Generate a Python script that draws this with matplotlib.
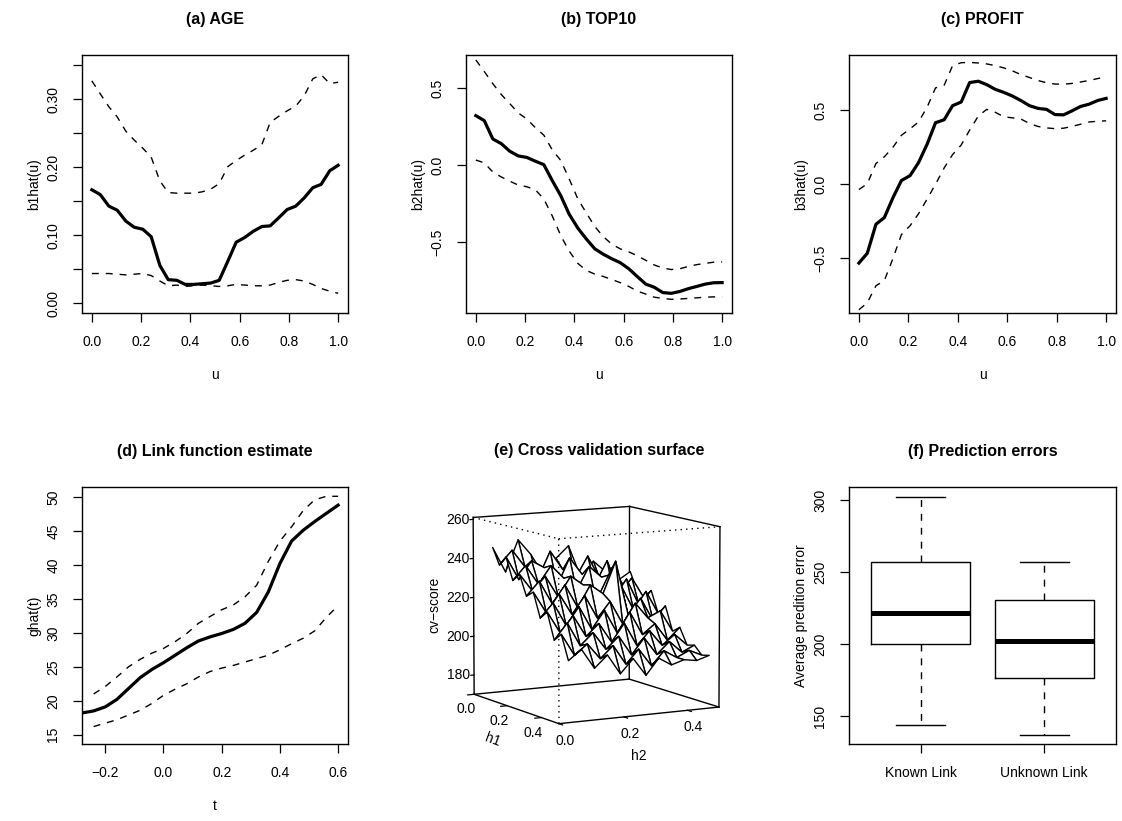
import numpy as np
import matplotlib.pyplot as plt

plt.rcParams['font.family'] = ['Liberation Sans', 'DejaVu Sans']
plt.rcParams['axes.unicode_minus'] = True

# --- coefficient functions, panels (a)-(c) ---
U = [0.000, 0.034, 0.069, 0.103, 0.138, 0.172, 0.207, 0.241, 0.276, 0.310,
     0.345, 0.379, 0.414, 0.448, 0.483, 0.517, 0.552, 0.586, 0.621, 0.655,
     0.690, 0.724, 0.759, 0.793, 0.828, 0.862, 0.897, 0.931, 0.966, 1.000]

B1_FIT = [0.167, 0.160, 0.143, 0.137, 0.121, 0.112, 0.109, 0.098, 0.056, 0.035,
          0.034, 0.028, 0.028, 0.029, 0.030, 0.034, 0.062, 0.090, 0.097, 0.106,
          0.113, 0.114, 0.126, 0.138, 0.143, 0.155, 0.170, 0.175, 0.195, 0.203]
B1_UP = [0.327, 0.308, 0.289, 0.274, 0.253, 0.240, 0.228, 0.215, 0.180, 0.163,
         0.162, 0.162, 0.162, 0.164, 0.168, 0.176, 0.201, 0.210, 0.218, 0.225,
         0.233, 0.266, 0.275, 0.283, 0.290, 0.305, 0.330, 0.336, 0.323, 0.325]
B1_LO = [0.044, 0.044, 0.044, 0.043, 0.042, 0.043, 0.044, 0.041, 0.033, 0.026,
         0.027, 0.025, 0.026, 0.027, 0.026, 0.025, 0.026, 0.028, 0.027, 0.026,
         0.026, 0.027, 0.031, 0.034, 0.035, 0.033, 0.028, 0.022, 0.018, 0.015]

B2_FIT = [0.322, 0.290, 0.170, 0.140, 0.090, 0.060, 0.050, 0.026, 0.003, -0.100,
          -0.200, -0.320, -0.410, -0.480, -0.545, -0.580, -0.610, -0.635, -0.675, -0.725,
          -0.775, -0.795, -0.830, -0.835, -0.823, -0.805, -0.790, -0.775, -0.766, -0.765]
B2_UP = [0.685, 0.610, 0.530, 0.460, 0.400, 0.340, 0.300, 0.245, 0.195, 0.100,
         0.030, -0.090, -0.220, -0.310, -0.400, -0.465, -0.515, -0.545, -0.565, -0.590,
         -0.620, -0.650, -0.670, -0.680, -0.675, -0.660, -0.648, -0.640, -0.632, -0.630]
B2_LO = [0.033, 0.015, -0.045, -0.077, -0.105, -0.130, -0.141, -0.160, -0.220, -0.330,
         -0.460, -0.560, -0.640, -0.685, -0.710, -0.725, -0.745, -0.765, -0.790, -0.820,
         -0.840, -0.860, -0.868, -0.874, -0.872, -0.868, -0.864, -0.860, -0.858, -0.858]

B3_FIT = [-0.532, -0.466, -0.270, -0.225, -0.090, 0.025, 0.058, 0.145, 0.270, 0.415,
          0.435, 0.530, 0.555, 0.686, 0.695, 0.672, 0.640, 0.620, 0.595, 0.565,
          0.530, 0.512, 0.505, 0.470, 0.468, 0.495, 0.525, 0.540, 0.565, 0.579]
B3_UP = [-0.036, 0.003, 0.140, 0.185, 0.250, 0.330, 0.374, 0.420, 0.520, 0.650,
         0.668, 0.800, 0.820, 0.822, 0.818, 0.812, 0.800, 0.785, 0.765, 0.740,
         0.720, 0.700, 0.685, 0.676, 0.675, 0.680, 0.690, 0.700, 0.713, 0.725]
B3_LO = [-0.847, -0.800, -0.685, -0.650, -0.500, -0.340, -0.280, -0.200, -0.100, 0.000,
         0.110, 0.200, 0.265, 0.365, 0.460, 0.505, 0.485, 0.455, 0.448, 0.440,
         0.410, 0.390, 0.380, 0.375, 0.378, 0.390, 0.405, 0.420, 0.425, 0.428]

# --- link function, panel (d) ---
T = [-0.28, -0.24, -0.20, -0.16, -0.12, -0.08, -0.04, 0.00, 0.04, 0.08, 0.12, 0.16,
     0.20, 0.24, 0.28, 0.32, 0.36, 0.40, 0.44, 0.48, 0.52, 0.56, 0.60]
G_FIT = [18.2, 18.5, 19.1, 20.2, 21.8, 23.4, 24.6, 25.6, 26.7, 27.8, 28.8, 29.4,
         29.9, 30.5, 31.4, 33.0, 36.0, 40.2, 43.5, 45.1, 46.4, 47.6, 48.8]
# bands start at t = -0.24
G_UP = [21.0, 22.1, 23.5, 25.0, 26.1, 27.0, 27.7, 28.7, 29.9, 31.4, 32.4,
        33.4, 34.1, 35.3, 37.0, 40.5, 43.5, 45.6, 48.0, 49.6, 50.1, 50.1]
G_LO = [16.2, 16.7, 17.2, 17.9, 18.6, 19.6, 20.8, 21.7, 22.5, 23.5, 24.3,
        24.8, 25.2, 25.7, 26.2, 26.7, 27.5, 28.4, 29.2, 30.3, 32.3, 34.0]

# --- cross validation surface, panel (e) ---
H1 = [0.04, 0.08, 0.12, 0.16, 0.20, 0.24, 0.28, 0.32, 0.36, 0.40, 0.44, 0.48]
H2 = [0.04, 0.08, 0.12, 0.16, 0.20, 0.24, 0.28, 0.32, 0.36, 0.40, 0.44, 0.48]
CV_SCORE = [
    [246, 233, 249, 241, 230, 238, 244, 227, 235, 229, 224, 228],
    [238, 245, 236, 229, 243, 233, 228, 239, 226, 232, 221, 219],
    [243, 231, 240, 236, 226, 240, 231, 225, 237, 220, 227, 216],
    [232, 239, 229, 238, 231, 224, 236, 230, 219, 228, 214, 221],
    [236, 227, 234, 223, 233, 228, 219, 232, 226, 213, 222, 210],
    [226, 233, 221, 230, 218, 229, 224, 240, 212, 220, 208, 215],
    [229, 218, 227, 216, 225, 213, 221, 209, 219, 211, 214, 203],
    [217, 224, 212, 221, 209, 218, 206, 216, 204, 209, 200, 206],
    [221, 210, 218, 207, 213, 203, 212, 200, 207, 199, 204, 198],
    [208, 216, 204, 210, 201, 207, 197, 205, 196, 202, 196, 199],
    [212, 201, 206, 198, 204, 194, 201, 192, 199, 195, 198, 195],
    [200, 205, 195, 201, 191, 198, 189, 197, 193, 195, 194, 196],
]

# --- prediction errors, panel (f) ---
METHODS = ['Known Link', 'Unknown Link']
ERR_MED = [222.0, 202.1]
ERR_Q1 = [200.2, 176.2]
ERR_Q3 = [257.4, 231.0]
ERR_LO = [143.8, 136.8]
ERR_HI = [302.3, 256.9]

DASH = (0, (5, 5))

fig = plt.figure(figsize=(11.22, 8.21), dpi=100)
W, H = 1122.0, 821.0


def rect(left, top, right, bottom):
    return [left / W, 1 - bottom / H, (right - left) / W, (bottom - top) / H]


def style(ax, title, xlabel, ylabel):
    ax.set_title(title, fontsize=11.5, fontweight='bold', pad=22)
    ax.set_xlabel(xlabel, fontsize=10, labelpad=14)
    ax.set_ylabel(ylabel, fontsize=10, labelpad=4)
    ax.tick_params(direction='out', length=6.5, width=0.9, labelsize=10, pad=9)
    ax.tick_params(axis='y', labelrotation=90)
    for lab in ax.get_yticklabels():
        lab.set_va('center')
    for s in ax.spines.values():
        s.set_linewidth(1.0)


def coef_panel(r, fit, up, lo, ylim, yticks, ylabels, title, ylabel):
    ax = fig.add_axes(r)
    ax.plot(U, up, color='black', lw=1.0, ls=DASH)
    ax.plot(U, lo, color='black', lw=1.0, ls=DASH)
    ax.plot(U, fit, color='black', lw=2.3)
    ax.set_xlim(-0.04, 1.04)
    ax.set_ylim(*ylim)
    ax.set_xticks([0.0, 0.2, 0.4, 0.6, 0.8, 1.0])
    ax.set_yticks(yticks)
    ax.set_yticklabels(ylabels)
    style(ax, title, 'u', ylabel)
    return ax


coef_panel(rect(82, 55, 348, 313), B1_FIT, B1_UP, B1_LO, (-0.014, 0.365),
           [0.0, 0.05, 0.10, 0.15, 0.20, 0.25, 0.30, 0.35],
           ['0.00', '', '0.10', '', '0.20', '', '0.30', ''],
           '(a) AGE', 'b1hat(u)')
coef_panel(rect(466, 55, 732, 313), B2_FIT, B2_UP, B2_LO, (-0.963, 0.717),
           [-0.5, 0.0, 0.5], ['\u22120.5', '0.0', '0.5'],
           '(b) TOP10', 'b2hat(u)')
coef_panel(rect(849, 55, 1116, 313), B3_FIT, B3_UP, B3_LO, (-0.869, 0.872),
           [-0.5, 0.0, 0.5], ['\u22120.5', '0.0', '0.5'],
           '(c) PROFIT', 'b3hat(u)')

# (d) link function
axd = fig.add_axes(rect(82, 487, 348, 744))
axd.plot(T[1:], G_UP, color='black', lw=1.0, ls=DASH)
axd.plot(T[1:], G_LO, color='black', lw=1.0, ls=DASH)
axd.plot(T, G_FIT, color='black', lw=2.3)
axd.set_xlim(-0.28, 0.634)
axd.set_ylim(13.63, 51.47)
axd.set_xticks([-0.2, 0.0, 0.2, 0.4, 0.6])
axd.set_xticklabels(['\u22120.2', '0.0', '0.2', '0.4', '0.6'])
axd.set_yticks([15, 20, 25, 30, 35, 40, 45, 50])
style(axd, '(d) Link function estimate', 't', 'ghat(t)')

# (f) prediction errors
axf = fig.add_axes(rect(849, 487, 1116, 744))
stats = []
for i, m in enumerate(METHODS):
    stats.append(dict(label=m, med=ERR_MED[i], q1=ERR_Q1[i], q3=ERR_Q3[i],
                      whislo=ERR_LO[i], whishi=ERR_HI[i]))
axf.bxp(stats, positions=[1, 2], widths=0.8, capwidths=0.4, showfliers=False,
        boxprops=dict(color='black', lw=1.0),
        whiskerprops=dict(color='black', lw=1.0, ls=DASH),
        capprops=dict(color='black', lw=1.0),
        medianprops=dict(color='black', lw=3.6, solid_capstyle='butt'))
axf.set_xlim(0.42, 2.58)
axf.set_ylim(130.6, 309.3)
axf.set_yticks([150, 200, 250, 300])
style(axf, '(f) Prediction errors', '', 'Average predition error')

# (e) cross validation surface
axe = fig.add_axes(rect(421, 456, 761, 776), projection='3d', computed_zorder=False)
axe.set_proj_type('persp', focal_length=2.0)
axe.view_init(elev=9, azim=-29)
axe.set_box_aspect((1, 1, 1), zoom=0.95)
x0, x1 = 0.0, 0.5
y0, y1 = 0.0, 0.5
z0, z1 = 170, 261
axe.set_xlim(x0, x1)
axe.set_ylim(y0, y1)
axe.set_zlim(z0, z1)
axe.set_xticks([])
axe.set_yticks([])
axe.set_zticks([])
for a in (axe.xaxis, axe.yaxis, axe.zaxis):
    a.label.set_visible(False)
    a.offsetText.set_visible(False)
axe.set_axis_off()

hx, hy = np.meshgrid(H1, H2, indexing='ij')
axe.plot_surface(hx, hy, np.array(CV_SCORE, dtype=float), rstride=1, cstride=1,
                 color='white', edgecolor='black', linewidth=1.0, shade=False,
                 zorder=2)

# bounding box: back edges solid, front top corner edges dotted
solid = [((x0, x0), (y0, y0), (z0, z1)), ((x1, x1), (y1, y1), (z0, z1)),
         ((x0, x0), (y1, y1), (z0, z1)),
         ((x0, x1), (y0, y0), (z0, z0)), ((x1, x1), (y0, y1), (z0, z0)),
         ((x0, x1), (y1, y1), (z0, z0)), ((x0, x0), (y0, y1), (z0, z0)),
         ((x0, x0), (y0, y1), (z1, z1)), ((x0, x1), (y1, y1), (z1, z1))]
dotted = [((x0, x1), (y0, y0), (z1, z1)), ((x1, x1), (y0, y1), (z1, z1)),
          ((x1, x1), (y0, y0), (z0, z1))]
for xs, ys, zs in solid:
    axe.plot(xs, ys, zs, color='black', lw=1.0, zorder=1)
for xs, ys, zs in dotted:
    axe.plot(xs, ys, zs, color='black', lw=1.0, ls=(0, (1, 3)), zorder=3)

dx, dy, dz = x1 - x0, y1 - y0, z1 - z0
for z in [180, 200, 220, 240, 260]:
    axe.plot((x0, x0), (y0, y0 - 0.02 * dy), (z, z), color='black', lw=0.9, zorder=3)
    axe.text(x0, y0 - 0.025 * dy, z, str(z), ha='right', va='center', fontsize=10, zorder=4)
for h in [0.0, 0.2, 0.4]:
    axe.plot((h, h), (y0, y0 - 0.04 * dy), (z0, z0), color='black', lw=0.9, zorder=3)
    axe.text(h, y0 - 0.05 * dy, z0 - 0.08 * dz, '%.1f' % h, ha='center', va='center',
             fontsize=10, zorder=4)
    axe.plot((x1, x1 + 0.04 * dx), (h, h), (z0, z0), color='black', lw=0.9, zorder=3)
    axe.text(x1 + 0.03 * dx, h + 0.02 * dy, z0 - 0.09 * dz, '%.1f' % h, ha='center',
             va='center', fontsize=10, zorder=4)
axe.text(x0 + 0.32 * dx, y0 - 0.05 * dy, z0 - 0.2 * dz, 'h1', zdir='x', ha='center',
         va='center', fontsize=10, zorder=4)
axe.text(x1 + 0.02 * dx, y0 + 0.48 * dy, z0 - 0.22 * dz, 'h2', ha='center', va='center',
         fontsize=10, zorder=4)
axe.text2D(0.012, 0.534, 'cv\u2212score', rotation=90, transform=axe.transAxes,
           ha='center', va='center', fontsize=10, zorder=4)
fig.text(599 / W, 1 - 450 / H, '(e) Cross validation surface', ha='center', va='center',
         fontsize=11.5, fontweight='bold')

fig.savefig('out.png', dpi=100)
